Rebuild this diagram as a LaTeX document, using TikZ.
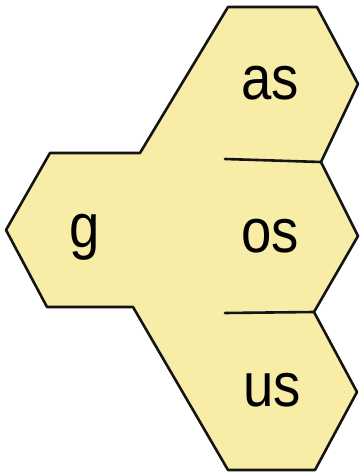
\documentclass[tikz,border=0pt]{standalone}
\usepackage{fontspec}
\setmainfont{Liberation Sans}
\definecolor{hexfill}{RGB}{248,237,166}
\definecolor{hexline}{RGB}{20,20,20}
\begin{document}
\begin{tikzpicture}[x=1pt,y=-1pt,
  hexedge/.style={draw=hexline,line width=2.6pt,line join=round,line cap=round},
  syl/.style={anchor=base,inner sep=0pt,font=\fontsize{62}{62}\selectfont}]
\useasboundingbox (0,0) rectangle (359,476);
\fill[white] (0,0) rectangle (359,476);
\filldraw[hexedge,fill=hexfill]
  (228,7) -- (317,7) -- (358,84) -- (321,162) -- (358,236) -- (314,312)
  -- (357,392) -- (315,470) -- (228,470) -- (133,307) -- (47,307)
  -- (6,230) -- (50,153) -- (140,153) -- cycle;
\draw[hexedge] (225,159) -- (321,162);
\draw[hexedge] (225,313) -- (314,312);
\node[syl] (as) at (270,100) {\scalebox{0.88}[1]{as}};
\node[syl] (os) at (270,252) {\scalebox{0.88}[1]{os}};
\node[syl] (us) at (272,406) {\scalebox{0.88}[1]{us}};
\node[syl] (g) at (85,247) {\scalebox{0.88}[1]{g}};
\end{tikzpicture}
\end{document}
